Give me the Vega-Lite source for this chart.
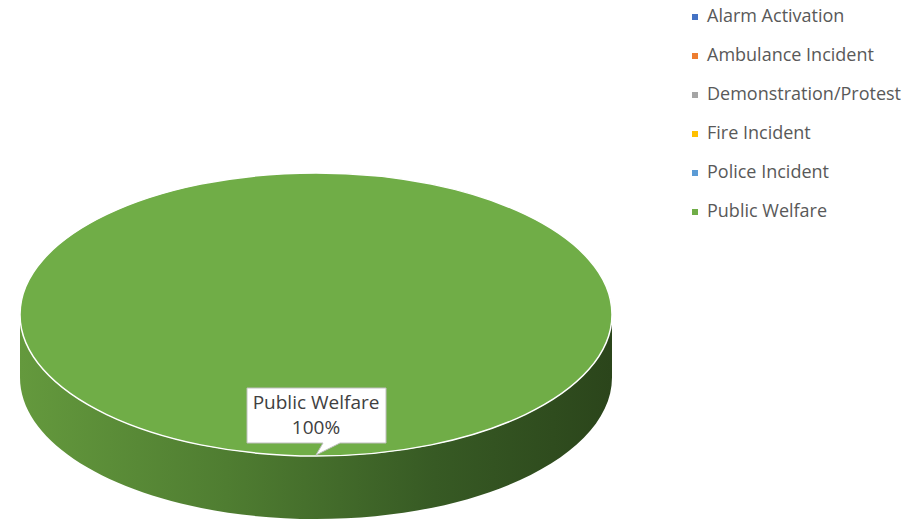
{
  "$schema": "https://vega.github.io/schema/vega-lite/v6.json",
  "width": 632,
  "height": 520,
  "autosize": "none",
  "padding": {"left": 0, "top": 0, "right": 292, "bottom": 0},
  "background": "white",
  "config": {"view": {"stroke": null}, "font": "Open Sans"},
  "data": {
    "values": [
      {"category": "Alarm Activation", "percent": 0},
      {"category": "Ambulance Incident", "percent": 0},
      {"category": "Demonstration/Protest", "percent": 0},
      {"category": "Fire Incident", "percent": 0},
      {"category": "Police Incident", "percent": 0},
      {"category": "Public Welfare", "percent": 100}
    ]
  },
  "transform": [{"filter": "datum.percent > 0"}],
  "layer": [
    {
      "mark": {
        "type": "point",
        "filled": true,
        "opacity": 1,
        "size": 40000,
        "strokeWidth": 0,
        "shape": "M -2.96 0.545 L -2.96 1.175 C -2.96 1.9565 -1.6348 2.59 0 2.59 C 1.6348 2.59 2.96 1.9565 2.96 1.175 L 2.96 0.545 C 2.96 1.3265 1.6348 1.96 0 1.96 C -1.6348 1.96 -2.96 1.3265 -2.96 0.545 Z",
        "fill": {
          "gradient": "linear",
          "x1": 0, "y1": 0, "x2": 1, "y2": 0,
          "stops": [
            {"offset": 0, "color": "#64993d"},
            {"offset": 0.35, "color": "#4f7d31"},
            {"offset": 0.7, "color": "#375a24"},
            {"offset": 1, "color": "#2b451b"}
          ]
        }
      }
    },
    {
      "mark": {
        "type": "point",
        "filled": true,
        "opacity": 1,
        "size": 40000,
        "stroke": "white",
        "strokeWidth": 1.5,
        "shape": "M -2.96 0.545 C -2.96 -0.2365 -1.6348 -0.87 0 -0.87 C 1.6348 -0.87 2.96 -0.2365 2.96 0.545 C 2.96 1.3265 1.6348 1.96 0 1.96 C -1.6348 1.96 -2.96 1.3265 -2.96 0.545 Z"
      },
      "encoding": {
        "fill": {
          "field": "category",
          "type": "nominal",
          "scale": {
            "domain": ["Alarm Activation", "Ambulance Incident", "Demonstration/Protest", "Fire Incident", "Police Incident", "Public Welfare"],
            "range": ["#4472c4", "#ed7d31", "#a5a5a5", "#ffc000", "#5b9bd5", "#70ad47"]
          },
          "legend": {
            "title": null,
            "orient": "none",
            "legendX": 686,
            "legendY": 8,
            "symbolType": "square",
            "symbolSize": 36,
            "symbolStrokeWidth": 0,
            "symbolOpacity": 1,
            "labelFont": "Open Sans",
            "labelFontSize": 18,
            "labelColor": "#595959",
            "labelOffset": 3,
            "clipHeight": 18,
            "rowPadding": 21,
            "labelLimit": 300
          }
        }
      }
    },
    {
      "mark": {
        "type": "point",
        "filled": true,
        "opacity": 1,
        "size": 40000,
        "fill": "white",
        "stroke": "#bfbfbf",
        "strokeWidth": 1,
        "shape": "M -0.69 1.28 L 0.70 1.28 L 0.70 1.83 L 0.24 1.83 L 0.0 1.95 L 0.07 1.83 L -0.69 1.83 Z"
      }
    },
    {
      "transform": [{"calculate": "[datum.category, datum.percent + '%']", "as": "label"}],
      "mark": {
        "type": "text",
        "radius": 143,
        "font": "Open Sans",
        "fontSize": 19,
        "color": "#404040",
        "lineHeight": 25,
        "baseline": "middle",
        "align": "center"
      },
      "encoding": {
        "theta": {"field": "percent", "type": "quantitative", "stack": true},
        "text": {"field": "label"}
      }
    }
  ]
}
